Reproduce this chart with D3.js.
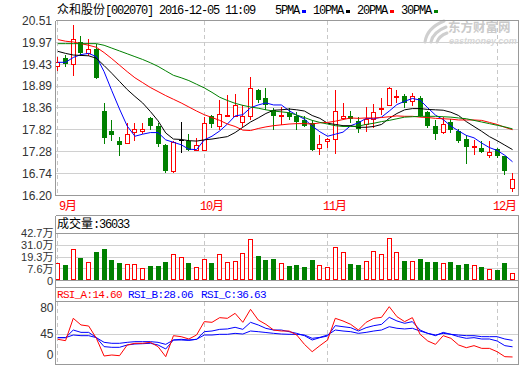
<!DOCTYPE html>
<html>
<head>
<meta charset="utf-8">
<script src="https://cdn.jsdelivr.net/npm/d3@7"></script>
<style>
  body { margin: 0; background: #fff; }
  svg { display: block; }
  .axis { font-family: "Liberation Sans", Arial, sans-serif; font-size: 12px; fill: #333; }
</style>
</head>
<body>
<div id="chart"></div>
<script>
// ---- values ----
const opens = [19.40,19.58,19.44,19.99,19.71,19.81,18.29,17.80,17.55,17.50,
  17.76,17.78,18.10,17.90,17.45,16.80,17.57,17.54,17.31,17.33,
  18.15,17.92,18.17,18.17,18.02,18.17,18.79,18.60,18.31,18.17,
  18.23,18.17,18.06,17.98,17.38,17.55,17.60,18.10,18.17,18.03,
  17.97,18.09,18.32,18.44,18.63,18.65,18.52,18.61,18.25,17.90,
  17.76,18.01,17.78,17.60,17.39,17.37,17.20,17.35,17.18,16.38];
const highs = [19.61,19.67,20.39,20.14,20.06,19.94,18.48,18.07,17.65,17.98,
  17.98,17.98,18.13,17.98,17.47,17.54,18.01,17.72,17.62,18.13,
  18.19,18.56,18.68,18.69,18.42,19.11,18.83,18.85,18.35,18.37,
  18.36,18.25,18.17,18.06,17.68,17.62,18.79,18.47,18.29,18.13,
  18.37,18.46,18.61,18.88,18.79,18.71,18.72,18.66,18.29,18.05,
  18.13,18.09,17.84,17.68,17.57,17.55,17.54,17.37,17.18,16.76];
const lows = [19.30,19.38,19.18,19.65,19.65,19.09,17.49,17.57,17.20,17.50,
  17.57,17.74,17.84,17.41,16.77,16.77,17.27,17.31,17.31,17.33,
  17.88,17.83,18.16,18.17,17.92,18.09,18.50,18.34,17.84,17.95,
  18.09,17.83,17.92,17.31,17.23,17.39,17.24,18.09,18.02,17.76,
  17.78,17.88,18.21,18.44,18.50,18.39,18.43,18.15,17.88,17.60,
  17.73,17.76,17.51,17.00,17.23,17.27,17.14,17.16,16.73,16.31];
const closes = [19.50,19.44,20.06,19.70,19.81,19.09,17.61,17.69,17.45,17.72,
  17.83,17.85,17.90,17.47,16.80,17.51,17.57,17.33,17.45,17.99,
  17.97,18.21,18.19,18.42,18.15,18.85,18.54,18.42,18.17,18.19,
  18.13,18.01,17.92,17.31,17.47,17.58,18.29,18.17,18.09,17.84,
  18.09,18.25,18.36,18.85,18.65,18.47,18.64,18.15,17.90,17.72,
  17.95,17.82,17.54,17.39,17.41,17.27,17.28,17.18,16.80,16.61];
// volume in 万手
const volumes = [13.0,11.0,27.8,18.9,14.9,23.9,27.8,16.9,13.3,12.0,
  12.0,8.7,10.0,10.0,14.9,21.9,19.6,13.0,9.7,17.9,
  13.0,21.9,14.0,15.9,22.9,36.8,19.9,16.9,17.9,13.0,
  10.0,11.0,9.0,16.9,11.0,9.0,29.8,23.9,12.0,11.0,
  15.9,25.8,22.6,38.4,23.9,15.9,15.6,17.9,14.2,14.2,
  13.0,14.2,11.0,12.0,11.0,9.3,7.7,7.0,13.3,3.6];

const ma5 = [19.48,19.48,19.60,19.67,19.70,19.62,19.25,18.78,18.33,17.91,
  17.66,17.71,17.75,17.75,17.57,17.51,17.45,17.34,17.33,17.57,
  17.66,17.79,17.96,18.16,18.19,18.36,18.43,18.48,18.43,18.43,
  18.29,18.18,18.08,17.91,17.77,17.66,17.71,17.76,17.92,17.99,
  18.10,18.09,18.13,18.28,18.44,18.52,18.59,18.55,18.36,18.18,
  18.07,17.91,17.79,17.68,17.62,17.49,17.38,17.31,17.19,17.03];
const ma10 = [19.75,19.70,19.66,19.65,19.64,19.58,19.40,19.21,19.01,18.81,
  18.64,18.48,18.27,18.04,17.74,17.59,17.58,17.55,17.54,17.57,
  17.59,17.62,17.65,17.75,17.88,18.01,18.11,18.22,18.30,18.31,
  18.33,18.31,18.28,18.17,18.10,17.98,17.95,17.92,17.92,17.88,
  17.88,17.90,17.95,18.10,18.22,18.31,18.34,18.34,18.32,18.31,
  18.30,18.25,18.17,18.02,17.90,17.78,17.65,17.55,17.44,17.33];
const ma20 = [20.04,20.00,19.98,19.94,19.90,19.85,19.72,19.57,19.41,19.25,
  19.10,18.98,18.86,18.76,18.66,18.57,18.48,18.38,18.28,18.19,
  18.12,18.05,17.96,17.90,17.81,17.80,17.85,17.89,17.92,17.94,
  17.96,17.97,17.97,17.96,17.99,18.00,18.03,18.07,18.11,18.10,
  18.11,18.11,18.12,18.14,18.16,18.15,18.15,18.13,18.12,18.10,
  18.09,18.08,18.06,18.06,18.06,18.05,18.00,17.95,17.88,17.82];
const ma30 = [19.94,19.94,19.94,19.94,19.94,19.94,19.90,19.83,19.76,19.69,
  19.62,19.55,19.47,19.38,19.27,19.16,19.10,19.03,18.94,18.85,
  18.74,18.62,18.54,18.47,18.42,18.38,18.35,18.31,18.28,18.26,
  18.24,18.18,18.12,18.05,18.00,17.96,17.92,17.90,17.90,17.91,
  17.95,17.98,18.02,18.05,18.09,18.13,18.14,18.15,18.15,18.15,
  18.14,18.13,18.11,18.09,18.05,18.01,17.97,17.93,17.89,17.84];

const rsiA = [38.0,36.2,65.8,57.0,55.6,39.3,15.9,17.2,16.3,30.5,
  32.7,32.7,34.0,28.3,15.0,42.8,41.5,38.4,43.7,61.4,
  60.5,66.7,65.8,72.4,60.5,77.7,63.6,57.8,50.3,49.0,
  49.0,43.7,31.3,21.6,29.6,37.1,65.8,62.3,57.8,50.3,
  60.5,65.8,67.1,81.2,68.0,61.4,66.7,44.6,35.8,31.3,
  42.8,39.3,30.5,26.9,29.6,26.0,26.0,21.6,15.0,14.6];
const rsiB = [40.2,40.2,50.3,47.2,47.2,40.2,28.3,27.4,27.4,30.5,
  31.8,32.2,32.7,30.5,25.2,37.1,37.1,36.6,38.0,48.1,
  49.0,51.2,51.7,53.9,51.2,60.5,57.0,52.5,50.3,50.3,
  48.1,45.9,42.8,37.1,40.2,42.4,56.1,54.7,53.4,49.0,
  53.4,56.1,57.8,67.1,62.3,59.2,61.4,50.3,45.9,42.8,
  47.2,44.6,41.5,39.3,40.2,38.4,38.4,35.8,29.6,28.06];
const rsiC = [40.2,40.2,43.7,42.8,42.8,40.2,34.0,32.7,32.7,34.0,
  34.9,34.9,34.9,34.0,31.3,37.1,38.0,37.1,38.0,43.7,
  43.7,44.6,44.6,45.9,45.0,49.0,48.1,47.0,45.9,45.0,
  44.6,44.6,43.7,39.3,40.6,43.7,50.3,49.0,48.1,45.9,
  47.2,49.0,50.3,54.7,52.6,51.7,52.6,49.0,45.9,43.7,
  45.9,44.6,43.7,42.8,42.8,41.5,41.5,41.5,38.4,36.63];

const priceTicks = [20.51, 19.97, 19.43, 18.89, 18.36, 17.82, 17.28, 16.74, 16.20];
const volTicks = [42.7, 31.0, 19.3, 7.6];
const volTickLabels = ["42.7万", "31.0万", "19.3万", "7.6万"];
const rsiTicks = [80, 45, 0];
const monthLabels = ["9月", "10月", "11月", "12月"];
const monthStarts = [0, 19, 35, 57];
const maNames = ["5PMA", "10PMA", "20PMA", "30PMA"];
const title = "众和股份[002070] 2016-12-05 11:09";
const volHeader = "成交量:36033";
const rsiNames = ["RSI_A:14.60", "RSI_B:28.06", "RSI_C:36.63"];

// ---- layout ----
const W = 520, H = 365;
const left = 55.5, right = 518.5;
const mainTop = 20.5, mainBottom = 195.5;
const volTop = 215.5, volHead = 233.5, volBase = 280.5, volEnd = 287.5;
const rsiHead = 301.5, rsiBottom = 364.5;

const RED = "#ff0000", GREEN = "#008000", BLUE = "#0000ff";
const maColors = [BLUE, "#000000", RED, GREEN];
const maSeries = [ma5, ma10, ma20, ma30];
const frameColor = "#999", gridColor = "#d0d0d0";

const svg = d3.select("#chart").append("svg").attr("width", W).attr("height", H);

const n = closes.length;
const x = d3.scaleBand().domain(d3.range(n)).range([54, 516.4]);
const mid = i => x(i) + x.bandwidth() / 2;
const col = i => Math.floor(mid(i)); // pixel column of candle centre
const y = d3.scaleLinear().domain([16.20, 20.51]).range([mainBottom, mainTop]);
const yVol = d3.scaleLinear().domain([-3.9, 42.7]).range([volBase, volHead]);
const yRsi = d3.scaleLinear().domain([0, 100]).range([368, 292.5]);
const snap = v => Math.round(v - 0.5) + 0.5;

// writes a string, CJK parts in a CJK font, the rest in a narrow mono font
function addText(parent, str, xPos, yPos, color, size, spacing) {
  let t = parent.append("text").attr("x", xPos).attr("y", yPos)
    .attr("fill", color).style("font-size", size + "px");
  str.match(/[\u3000-\u9fff]+|[^\u3000-\u9fff]+/g).forEach(run => {
    let cjk = /[\u3000-\u9fff]/.test(run);
    t.append("tspan").text(run)
      .style("font-family", cjk ? '"Noto Sans CJK SC", sans-serif' : '"Liberation Mono", monospace')
      .style("letter-spacing", cjk ? "0px" : spacing + "px");
  });
  return t;
}

function hline(g, y0, x0, x1, color, dash) {
  g.append("line").attr("x1", x0).attr("x2", x1).attr("y1", y0).attr("y2", y0)
    .attr("stroke", color).attr("stroke-dasharray", dash || null)
    .attr("shape-rendering", "crispEdges");
}
function vline(g, x0, y0, y1, color, dash) {
  g.append("line").attr("x1", x0).attr("x2", x0).attr("y1", y0).attr("y2", y1)
    .attr("stroke", color).attr("stroke-dasharray", dash || null)
    .attr("shape-rendering", "crispEdges");
}

// clip paths for the panels
const defs = svg.append("defs");
defs.append("clipPath").attr("id", "clipMain").append("rect")
  .attr("x", left).attr("y", mainTop).attr("width", right - left).attr("height", mainBottom - mainTop);
defs.append("clipPath").attr("id", "clipRsi").append("rect")
  .attr("x", left).attr("y", rsiHead).attr("width", right - left).attr("height", rsiBottom - rsiHead);

// ---- title + legend ----
addText(svg, title, 57, 14, "#000", 12, -1.2);

let lx = 275;
maNames.forEach((name, k) => {
  let t = addText(svg, name, lx, 14, "#000", 12, -1.2);
  let w = t.node().getComputedTextLength();
  svg.append("rect").attr("x", Math.round(lx + w + 3)).attr("y", 10).attr("width", 4).attr("height", 3)
    .attr("fill", maColors[k]);
  lx = lx + w + 3 + 4 + 7;
});

// ---- main price panel ----
const grid = svg.append("g");
priceTicks.forEach(t => hline(grid, snap(y(t)), left, right, gridColor));
monthStarts.forEach(i => vline(grid, col(i) + 0.5, mainTop, mainBottom, "#c8c8c8", "4,3"));

// watermark
const wm = svg.append("g").attr("fill", "none").attr("stroke", "#cfcfcf").attr("stroke-width", 3)
  .attr("stroke-linecap", "round");
wm.append("path").attr("d", "M425,42 Q427,28 444,21");
wm.append("path").attr("d", "M431,42 Q433,32 446,27");
wm.append("path").attr("d", "M437,42 Q439,36 447,33");
svg.append("text").attr("x", 448).attr("y", 32).text("东方财富网")
  .style("font-family", '"Noto Sans CJK SC", sans-serif').style("font-weight", "bold")
  .style("font-size", "12.5px").attr("fill", "#cacaca");
svg.append("text").attr("x", 449).attr("y", 44).text("eastmoney.com")
  .style("font-family", '"Liberation Sans", sans-serif').style("font-weight", "bold")
  .style("font-style", "italic").style("font-size", "9px").attr("fill", "#d6d6d6");

// price labels
svg.append("g").selectAll("text").data(priceTicks).join("text")
  .attr("class", "axis").attr("text-anchor", "end")
  .attr("x", 52).attr("y", d => y(d)).attr("dy", "0.35em")
  .text(d => d.toFixed(2));

// candles
const candles = svg.append("g").attr("clip-path", "url(#clipMain)").attr("shape-rendering", "crispEdges");
d3.range(n).forEach(i => {
  let c = col(i);
  let o = opens[i], cl = closes[i];
  let color = cl > o ? RED : cl < o ? GREEN : "#000";
  candles.append("line").attr("x1", c + 0.5).attr("x2", c + 0.5)
    .attr("y1", Math.round(y(highs[i]))).attr("y2", Math.round(y(lows[i])) + 1)
    .attr("stroke", color);
  if (cl > o) {
    let top = Math.round(y(cl)) + 0.5, bot = Math.round(y(o)) + 0.5;
    candles.append("rect").attr("x", c - 1.5).attr("y", top).attr("width", 4)
      .attr("height", Math.max(0, bot - top)).attr("fill", "#fff").attr("stroke", RED);
  } else if (cl < o) {
    let top = Math.round(y(o)), bot = Math.round(y(cl));
    candles.append("rect").attr("x", c - 2).attr("y", top).attr("width", 5)
      .attr("height", Math.max(1, bot - top)).attr("fill", GREEN);
  } else {
    candles.append("line").attr("x1", c - 2).attr("x2", c + 3)
      .attr("y1", Math.round(y(o)) + 0.5).attr("y2", Math.round(y(o)) + 0.5).attr("stroke", "#000");
  }
});

// moving averages
const maLine = d3.line().x((d, i) => mid(i)).y(d => y(d));
const maG = svg.append("g").attr("clip-path", "url(#clipMain)");
maSeries.forEach((s, k) => {
  maG.append("path").datum(s).attr("d", maLine)
    .attr("fill", "none").attr("stroke", maColors[k]).attr("stroke-width", 1);
});

// month labels
monthStarts.forEach((i, k) => {
  addText(svg, monthLabels[k], Math.max(59, col(i) - 4), 210, RED, 12, -1.2);
});

// ---- volume panel ----
const volG = svg.append("g");
volTicks.forEach(t => hline(volG, snap(yVol(t)), left, right, gridColor));
monthStarts.forEach(i => vline(volG, col(i) + 0.5, volHead, volBase, "#c8c8c8", "4,3"));
addText(svg, volHeader, 57, 227.5, "#000", 12, -1.2);

svg.append("g").selectAll("text").data(volTicks).join("text")
  .attr("class", "axis").attr("text-anchor", "end")
  .attr("x", 53.5).attr("y", d => yVol(d)).attr("dy", "0.35em")
  .text((d, k) => volTickLabels[k])
  .style("font-family", '"Liberation Sans", "Noto Sans CJK SC", sans-serif')
  .style("font-size", "11px");
svg.append("text").attr("class", "axis").attr("text-anchor", "end")
  .attr("x", 53).attr("y", volBase + 1).attr("dy", "0.35em").text("0").style("font-size", "11px");

const bars = svg.append("g").attr("shape-rendering", "crispEdges");
d3.range(n).forEach(i => {
  let c = col(i);
  let up = closes[i] > opens[i] || (closes[i] === opens[i] && closes[i] >= closes[i - 1]);
  let top = Math.round(yVol(volumes[i]));
  if (up) {
    bars.append("rect").attr("x", c - 1.5).attr("y", top + 0.5).attr("width", 4)
      .attr("height", volBase - 1 - (top + 0.5)).attr("fill", "#fff").attr("stroke", RED);
  } else {
    bars.append("rect").attr("x", c - 2).attr("y", top).attr("width", 5)
      .attr("height", volBase - 0.5 - top).attr("fill", GREEN);
  }
});

// ---- RSI panel ----
const rsiG = svg.append("g");
hline(rsiG, snap(yRsi(45)), left, right, gridColor);
monthStarts.forEach(i => vline(rsiG, col(i) + 0.5, rsiHead, rsiBottom, "#c8c8c8", "4,3"));

svg.append("g").selectAll("text").data(rsiTicks).join("text")
  .attr("class", "axis").attr("text-anchor", "end")
  .attr("x", 53.5).attr("y", d => Math.min(yRsi(d), rsiBottom - 9.5)).attr("dy", "0.35em")
  .text(d => d);

const rsiColors = [RED, BLUE, BLUE];
const rsiX = [57, 128, 201];
rsiNames.forEach((s, k) => addText(svg, s, rsiX[k], 297.5, rsiColors[k], 11, -0.7));

const rsiLine = d3.line().x((d, i) => mid(i)).y(d => yRsi(d));
const rsiLines = svg.append("g").attr("clip-path", "url(#clipRsi)");
[[rsiC, BLUE], [rsiB, BLUE], [rsiA, RED]].forEach(p => {
  rsiLines.append("path").datum(p[0]).attr("d", rsiLine)
    .attr("fill", "none").attr("stroke", p[1]).attr("stroke-width", 1);
});

// ---- frames ----
const frame = svg.append("g");
hline(frame, mainTop, left, right, frameColor);
hline(frame, mainBottom, left, right, frameColor);
vline(frame, left, mainTop, mainBottom, frameColor);
vline(frame, right, mainTop, mainBottom, frameColor);

hline(frame, volTop, left, right, frameColor);
hline(frame, volHead, left, right, frameColor);
hline(frame, volBase, left, right, frameColor);
hline(frame, volEnd, left, right, frameColor);
vline(frame, left, volTop, volEnd, frameColor);
vline(frame, right, volTop, volEnd, frameColor);

hline(frame, rsiHead, left, right, frameColor);
hline(frame, rsiBottom, left, right, frameColor);
vline(frame, left, volEnd, rsiBottom, frameColor);
vline(frame, right, volEnd, rsiBottom, frameColor);
</script>
</body>
</html>
